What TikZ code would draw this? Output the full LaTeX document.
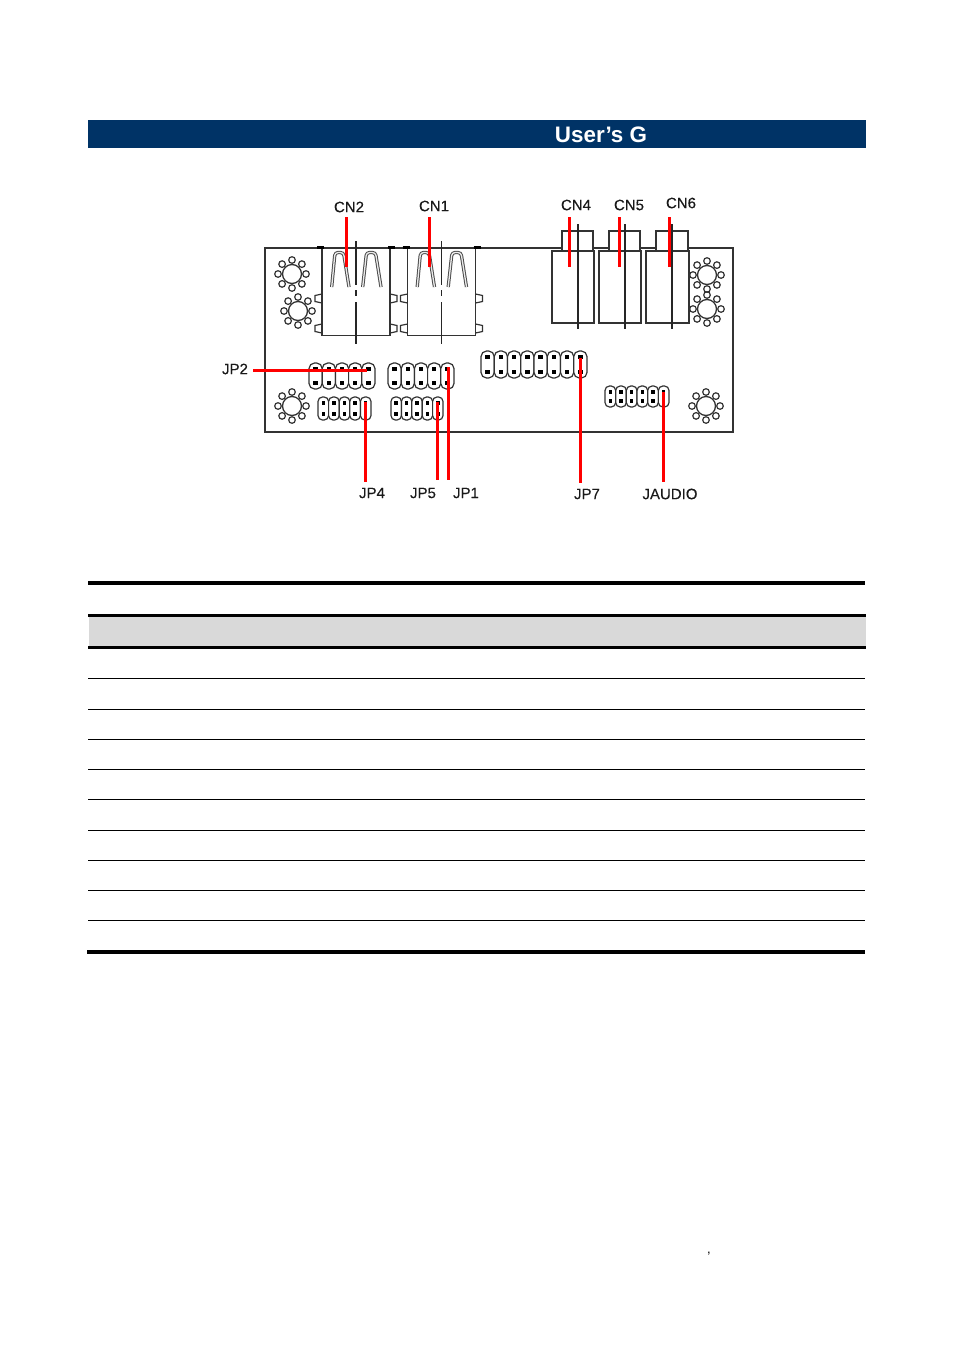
\documentclass[tikz,border=0pt]{standalone}
\usepackage{fontspec}
\setmainfont{Liberation Sans}
\newfontfamily\partfont[FakeBold=0.35]{Liberation Sans}
\definecolor{bannerblue}{HTML}{003366}
\definecolor{headgray}{HTML}{D9D9D9}
\definecolor{markred}{HTML}{FF0000}
\tikzset{
    outline/.style={draw=black!80, line width=1.6pt, fill=white},
    centreline/.style={black!85, line width=1.2pt},
    tongue/.style={draw=black!70, line width=1pt, double=black!8, double distance=1.3pt, rounded corners=3pt},
    redline/.style={markred, line width=3pt},
    partname/.style={font=\partfont\fontsize{15}{17}\selectfont, text=black!90, inner xsep=5pt},
    rowline/.style={black, line width=1pt}
}
% one jumper block: left, top, columns, column width, height
\newcommand{\pinheader}[5]{
    \foreach \i in {1,...,#3} {
        \pgfmathsetmacro{\xa}{#1+(\i-1)*#4}
        \pgfmathsetmacro{\xb}{\xa+#4}
        \pgfmathsetmacro{\xc}{\xa+#4/2}
        \pgfmathsetmacro{\pinsize}{#4/3}
        \draw[outline, line width=1.2pt, rounded corners=#4*0.42pt] (\xa,#2) rectangle (\xb,#2+#5);
        \fill[black] (\xc-\pinsize/2,#2+6-\pinsize/2) rectangle (\xc+\pinsize/2,#2+6+\pinsize/2);
        \fill[black] (\xc-\pinsize/2,#2+#5-6-\pinsize/2) rectangle (\xc+\pinsize/2,#2+#5-6+\pinsize/2);
    }
}
% one mounting hole with its ring of small circles
\newcommand{\mounthole}[2]{
    \draw[black!80, line width=1.3pt] (#1,#2) circle (9.5pt);
    \foreach \a in {0,45,...,315} {
        \draw[black!80, line width=1.2pt] (#1,#2) ++(\a:14pt) circle (3.3pt);
    }
}
\begin{document}
\begin{tikzpicture}[x=1pt,y=-1pt]
    \useasboundingbox (0,0) rectangle (954,1350);

    % Draw the title band
    \fill[bannerblue] (88,120) rectangle (866,148);
    \node[text=white, font=\fontsize{22.4}{24}\selectfont\bfseries, inner sep=0pt] (title) at (601,135) {User’s G};

    % Draw the board
    \draw[outline] (265,248) rectangle (733,432);

    % Draw the two USB blocks
    \foreach \x/\name in {0/usbtwo, 85.5/usbone} {
        \foreach \y in {294,324} {
            \draw[outline, line width=1.2pt] (322+\x,\y) -- (315+\x,\y+1.5) -- (315+\x,\y+7.5) -- (322+\x,\y+9);
            \draw[outline, line width=1.2pt] (390+\x,\y) -- (397+\x,\y+1.5) -- (397+\x,\y+7.5) -- (390+\x,\y+9);
        }
        \draw[outline] (322+\x,248) rectangle (390+\x,335.5);
        \draw[black, line width=3pt] (317+\x,247.5) -- (324+\x,247.5);
        \draw[black, line width=3pt] (388+\x,247.5) -- (395+\x,247.5);
        \draw[tongue] (331.7+\x,287) -- (335+\x,252.5) -- (343.5+\x,252.5) -- (349+\x,287);
        \draw[tongue] (362.7+\x,287) -- (366.5+\x,252.5) -- (375.5+\x,252.5) -- (381+\x,287);
        \draw[centreline] (356+\x,241) -- (356+\x,285);
        \draw[centreline] (356+\x,290) -- (356+\x,296);
        \draw[centreline] (356+\x,302) -- (356+\x,344);
    }

    % Draw the three jacks
    \foreach \x/\w in {552/42, 599/42, 646/43} {
        \draw[outline] (\x+10,231) rectangle (\x+\w-1,251);
        \draw[outline] (\x,251) rectangle (\x+\w,323);
        \draw[centreline] (\x+26,224) -- (\x+26,329);
    }

    % Draw the mounting holes
    \foreach \x/\y in {292/274, 298/311, 707/275, 707/309, 292/406, 706/406} {
        \mounthole{\x}{\y}
    }

    % Draw the jumper blocks
    \pinheader{309}{363}{5}{13.2}{26}
    \pinheader{388}{363}{5}{13.2}{26}
    \pinheader{318}{397}{5}{10.6}{23}
    \pinheader{391}{397}{5}{10.4}{23}
    \pinheader{481}{351}{8}{13.25}{27}
    \pinheader{605}{386}{6}{10.67}{21}

    % Labels above the board, with the red line down to the part
    \foreach \name/\lx/\ly/\tx in {CN2/349/207/346, CN1/434/206/429, CN4/576/205/569, CN5/629/205/619, CN6/681/203/669} {
        \pgfmathsetmacro{\gap}{211.5-\ly}
        \node[partname, inner ysep=\gap pt] (lbl\name) at (\lx,\ly) {\name};
        \coordinate (tip\name) at (\tx,267);
        \draw[redline] (tip\name |- lbl\name.south) -- (tip\name);
    }

    % Labels below the board
    \foreach \name/\lx/\ly/\tx/\ty/\by in {JP4/372/493/365/402/482, JP5/423/493/437/402/480, JP1/466/493/448/367/480, JP7/587/494/580/358/483, JAUDIO/670/494/663/392/482} {
        \pgfmathsetmacro{\gap}{\ly-5.45-\by}
        \node[partname, inner ysep=\gap pt] (lbl\name) at (\lx,\ly) {\name};
        \coordinate (tip\name) at (\tx,\ty);
        \draw[redline] (tip\name) -- (tip\name |- lbl\name.north);
    }

    % JP2 sits on the left
    \node[partname] (lblJP2) at (235,369) {JP2};
    \coordinate (tipJP2) at (367,370);
    \draw[redline] (tipJP2 -| lblJP2.east) -- (tipJP2);

    % Draw the table rules
    \fill[black] (88,581) rectangle (865,585);
    \fill[black] (88,614) rectangle (866,617);
    \fill[headgray] (89,617) rectangle (866,646);
    \fill[black] (88,646) rectangle (866,649);
    \foreach \y in {678.5,709,739,769,799,830,860,890,920} {
        \draw[rowline] (88,\y) -- (865,\y);
    }
    \fill[black] (87,950) rectangle (865,954);

    \node[font=\fontsize{13}{14}\selectfont, inner sep=0pt, anchor=base] (tick) at (709,1253.5) {,};
\end{tikzpicture}
\end{document}
